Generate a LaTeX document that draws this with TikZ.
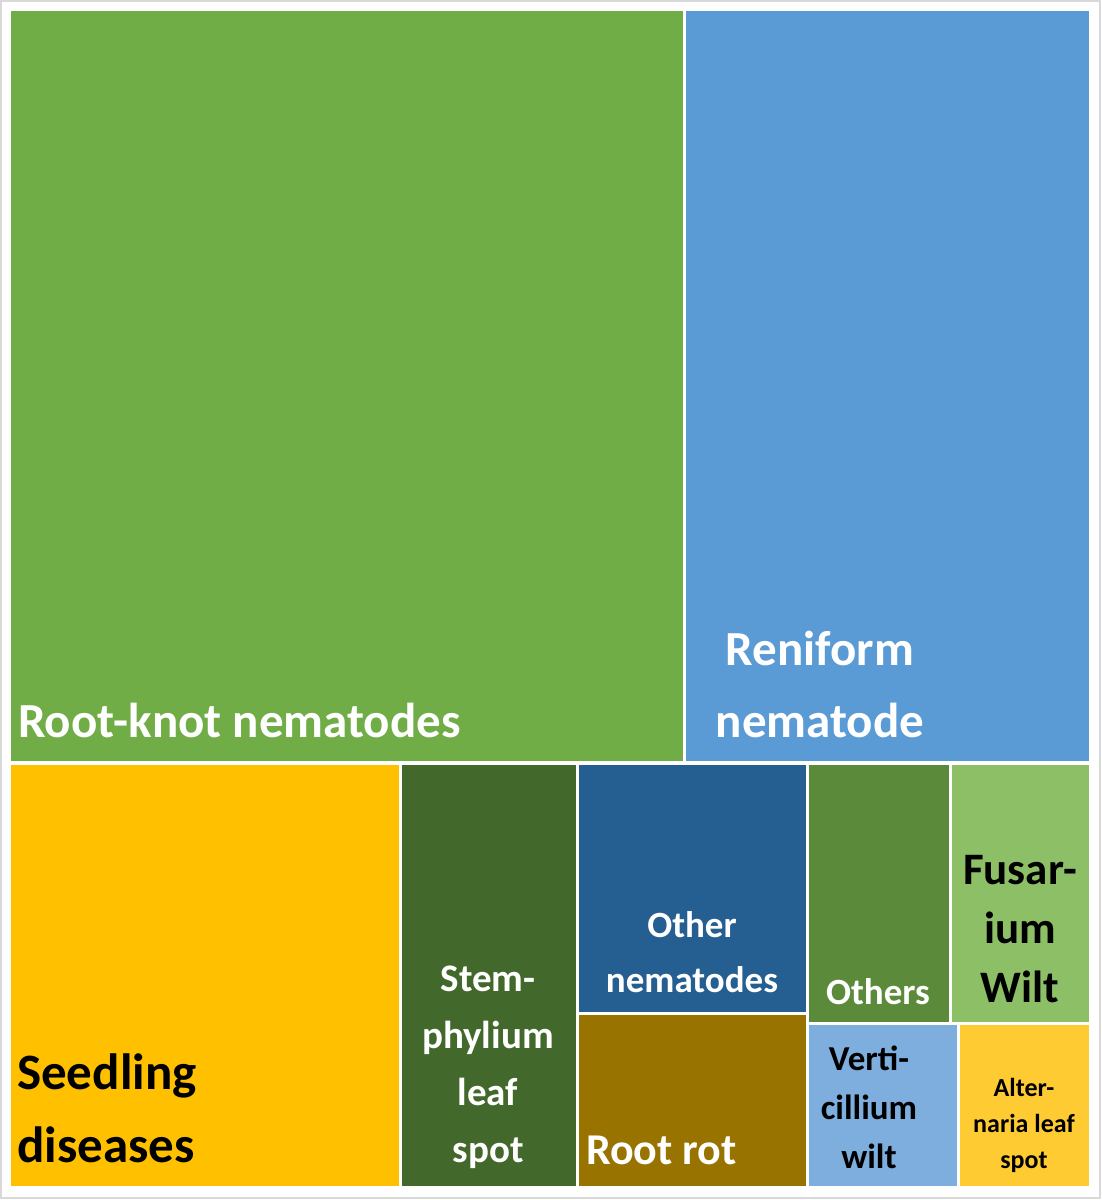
\documentclass[tikz,border=0pt]{standalone}
\usepackage{fontspec}
\setmainfont{Carlito}
\begin{document}
\begin{tikzpicture}[x=1pt,y=-1pt,
  cell/.style={draw=none},
  lbl/.style={inner sep=0pt,align=center,font=\bfseries},
]
\useasboundingbox (0,0) rectangle (1102,1200);
\draw[gray!30,line width=1.5pt] (1,1) rectangle (1100,1198);
\definecolor{cA}{HTML}{70AD47}\definecolor{cB}{HTML}{5B9BD5}
\definecolor{cC}{HTML}{FFC000}\definecolor{cD}{HTML}{43682B}
\definecolor{cE}{HTML}{255E91}\definecolor{cF}{HTML}{997300}
\definecolor{cG}{HTML}{5B8B3A}\definecolor{cH}{HTML}{8DC066}
\definecolor{cI}{HTML}{7DAEDD}\definecolor{cJ}{HTML}{FFCB33}
\fill[cA] (11,11) rectangle (683,761);
\fill[cB] (686,11) rectangle (1089,761);
\fill[cC] (11,765) rectangle (399,1186);
\fill[cD] (402,765) rectangle (576,1186);
\fill[cE] (579,765) rectangle (806,1012);
\fill[cF] (579,1015) rectangle (806,1186);
\fill[cG] (809,765) rectangle (949,1022);
\fill[cH] (952,765) rectangle (1089,1022);
\fill[cI] (809,1025) rectangle (957,1186);
\fill[cJ] (960,1025) rectangle (1089,1186);
\node[lbl,white,anchor=west,font=\bfseries\fontsize{49}{58}\selectfont] (rk) at (18,720) {Root-knot nematodes};
\node[lbl,white,font=\bfseries\fontsize{49}{72}\selectfont] (rn) at (820,684) {Reniform\\nematode};
\node[lbl,black,anchor=west,align=left,font=\bfseries\fontsize{51}{73}\selectfont] (sd) at (17,1108) {Seedling\\diseases};
\node[lbl,white,font=\bfseries\fontsize{39}{57}\selectfont] (st) at (488,1067) {Stem-\\phylium\\leaf\\spot};
\node[lbl,white,font=\bfseries\fontsize{37}{55}\selectfont] (on) at (692,952) {Other\\nematodes};
\node[lbl,white,anchor=west,font=\bfseries\fontsize{44}{50}\selectfont] (rr) at (586,1150) {Root rot};
\node[lbl,white,font=\bfseries\fontsize{37}{45}\selectfont] (ot) at (878,992) {Others};
\node[lbl,black,font=\bfseries\fontsize{45}{59}\selectfont] (fw) at (1020,929) {Fusar-\\ium\\Wilt};
\node[lbl,black,font=\bfseries\fontsize{35}{49}\selectfont] (vw) at (869,1107) {Verti-\\cillium\\wilt};
\node[lbl,black,font=\bfseries\fontsize{26}{36}\selectfont] (aw) at (1024,1125) {Alter-\\naria leaf\\spot};
\end{tikzpicture}
\end{document}
